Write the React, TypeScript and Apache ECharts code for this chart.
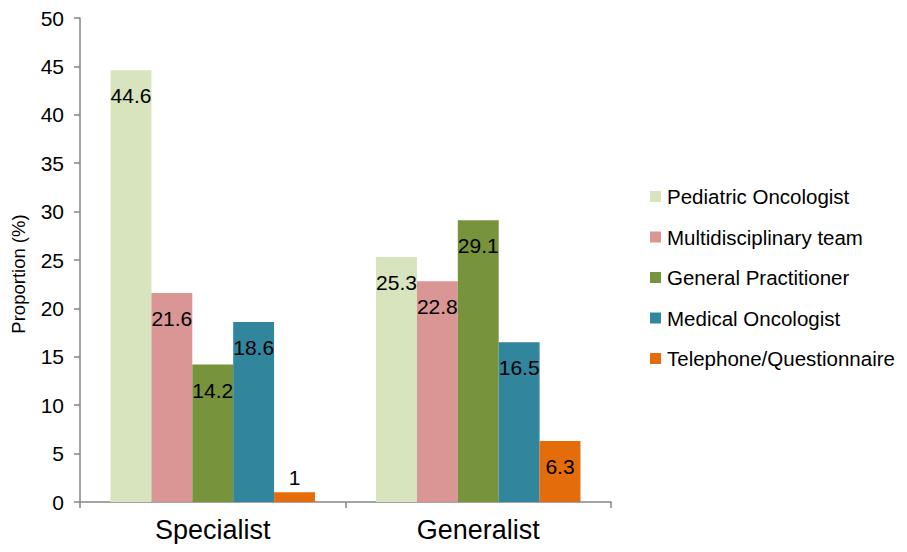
import React, { useEffect, useRef } from "react";
import * as echarts from "echarts";

const categories = ["Specialist", "Generalist"];
const seriesNames = [
  "Pediatric Oncologist",
  "Multidisciplinary team",
  "General Practitioner",
  "Medical Oncologist",
  "Telephone/Questionnaire",
];
const pediatricOncologist = [44.6, 25.3];
const multidisciplinaryTeam = [21.6, 22.8];
const generalPractitioner = [14.2, 29.1];
const medicalOncologist = [18.6, 16.5];
const telephoneQuestionnaire = [1, 6.3];
const colors = ["#D7E4BD", "#D99694", "#77933C", "#31859C", "#E46C0A"];

const FONT = "'Liberation Sans', Arial, sans-serif";

export default function App() {
  const ref = useRef<HTMLDivElement>(null);
  useEffect(() => {
    if (!ref.current) return;
    const chart = echarts.init(ref.current, undefined, { renderer: "svg" });
    const allData = [
      pediatricOncologist,
      multidisciplinaryTeam,
      generalPractitioner,
      medicalOncologist,
      telephoneQuestionnaire,
    ];
    const series = allData.map((vals, i) => ({
      name: seriesNames[i],
      type: "bar",
      barGap: "0%",
      barCategoryGap: "23%",
      itemStyle: { color: colors[i] },
      data: vals.map((v) =>
        v < 3
          ? { value: v, label: { position: "top", distance: 4 } }
          : { value: v }
      ),
      label: {
        show: true,
        position: "insideTop",
        distance: 15,
        color: "#000",
        fontSize: 21,
        fontFamily: FONT,
      },
    }));
    chart.setOption({
      animation: false,
      backgroundColor: "#fff",
      textStyle: { fontFamily: FONT },
      grid: { left: 80, right: 296, top: 18, bottom: 50, containLabel: false },
      legend: {
        orient: "vertical",
        left: 650,
        top: 186,
        padding: 0,
        itemWidth: 11,
        itemHeight: 11,
        itemGap: 19.5,
        itemStyle: { borderWidth: 0 },
        icon: "rect",
        data: seriesNames,
        textStyle: { fontSize: 20.5, color: "#000", fontFamily: FONT, padding: [0, 0, 0, 1] },
      },
      xAxis: {
        type: "category",
        data: categories,
        axisLine: { lineStyle: { color: "#868686", width: 1.5 } },
        axisTick: { show: true, length: 6, lineStyle: { color: "#868686", width: 1.5 } },
        axisLabel: { fontSize: 27, color: "#000", margin: 14, fontFamily: FONT },
      },
      yAxis: {
        type: "value",
        min: 0,
        max: 50,
        interval: 5,
        name: "Proportion (%)",
        nameLocation: "middle",
        nameGap: 52,
        nameTextStyle: { fontSize: 18.5, color: "#000", fontFamily: FONT, padding: [0, 28, 0, 0] },
        splitLine: { show: false },
        axisLine: { show: true, lineStyle: { color: "#868686", width: 1.5 } },
        axisTick: { show: true, length: 6, lineStyle: { color: "#868686", width: 1.5 } },
        axisLabel: { fontSize: 21, color: "#000", margin: 16, fontFamily: FONT },
      },
      series,
    });
    return () => chart.dispose();
  }, []);
  return <div ref={ref} style={{ width: 907, height: 552, margin: -8 }} />;
}
